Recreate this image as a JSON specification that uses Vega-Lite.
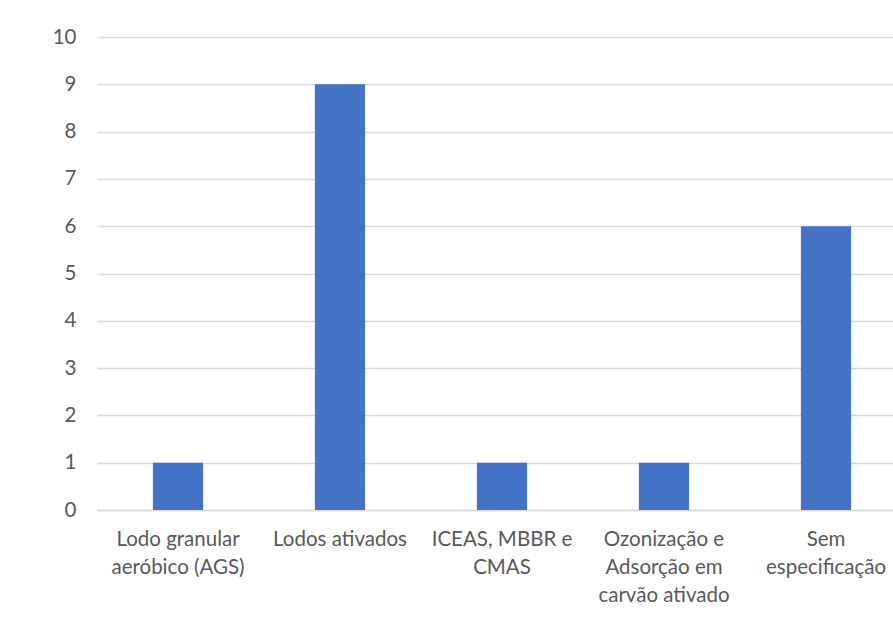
{
  "$schema": "https://vega.github.io/schema/vega-lite/v6.json",
  "autosize": "none",
  "padding": {"left": 97, "top": 37, "right": 0, "bottom": 130},
  "width": 810,
  "height": 473,
  "background": "white",
  "data": {
    "values": [
      {"tratamento": "Lodo granular aeróbico (AGS)", "n": 1},
      {"tratamento": "Lodos ativados", "n": 9},
      {"tratamento": "ICEAS, MBBR e CMAS", "n": 1},
      {"tratamento": "Ozonização e Adsorção em carvão ativado", "n": 1},
      {"tratamento": "Sem especificação", "n": 6}
    ]
  },
  "mark": {"type": "bar", "color": "#4472C4"},
  "encoding": {
    "x": {
      "field": "tratamento",
      "type": "nominal",
      "sort": null,
      "scale": {"paddingInner": 0.69, "paddingOuter": 0.345},
      "axis": {
        "title": null,
        "labelAngle": 0,
        "ticks": false,
        "domain": true,
        "domainColor": "#D9D9D9",
        "domainWidth": 1.5,
        "labelPadding": 19,
        "labelBaseline": "top",
        "labelLineHeight": 28,
        "labelLimit": 300,
        "labelOverlap": false,
        "labelExpr": "datum.value == 'Lodo granular aeróbico (AGS)' ? ['Lodo granular', 'aeróbico (AGS)'] : datum.value == 'ICEAS, MBBR e CMAS' ? ['ICEAS, MBBR e', 'CMAS'] : datum.value == 'Ozonização e Adsorção em carvão ativado' ? ['Ozonização e', 'Adsorção em', 'carvão ativado'] : datum.value == 'Sem especificação' ? ['Sem', 'especificação'] : datum.value"
      }
    },
    "y": {
      "field": "n",
      "type": "quantitative",
      "scale": {"domain": [0, 10]},
      "axis": {
        "title": null,
        "values": [0, 1, 2, 3, 4, 5, 6, 7, 8, 9, 10],
        "ticks": false,
        "domain": false,
        "labelPadding": 21,
        "labelOverlap": false,
        "labelFlush": false,
        "grid": true,
        "gridColor": "#D9D9D9",
        "gridWidth": 1.5
      }
    }
  },
  "config": {
    "view": {"stroke": null},
    "axis": {
      "labelFont": "Lato",
      "labelFontSize": 20.5,
      "labelColor": "#595959"
    }
  }
}
